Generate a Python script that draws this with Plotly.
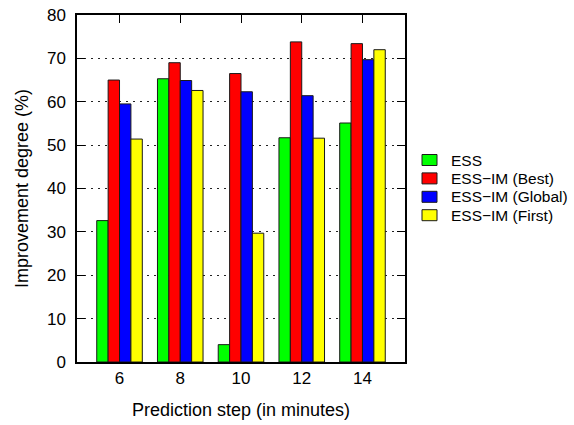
import plotly.graph_objects as go

# Prediction horizons (minutes) on the x axis
steps = [6, 8, 10, 12, 14]

# Improvement degree (%) for each method
ess = [32.6, 65.3, 4.0, 51.7, 55.1]
ess_im_best = [65.0, 69.0, 66.5, 73.8, 73.4]
ess_im_global = [59.5, 64.9, 62.3, 61.4, 69.7]
ess_im_first = [51.4, 62.6, 29.7, 51.6, 72.0]

series_names = ["ESS", "ESS\u2212IM (Best)", "ESS\u2212IM (Global)", "ESS\u2212IM (First)"]
series_values = [ess, ess_im_best, ess_im_global, ess_im_first]
series_colors = ["#00ff00", "#ff0000", "#0000ff", "#ffff00"]

FONT = "Liberation Sans, Arial, sans-serif"
W, H = 574, 425
ML, MR, MT, MB = 77, 169, 15, 63
PW, PH = W - ML - MR, H - MT - MB

fig = go.Figure()
for name, vals, col in zip(series_names, series_values, series_colors):
    fig.add_trace(go.Bar(
        x=steps, y=vals, name=name,
        marker=dict(color=col, line=dict(color="#1a1a1a", width=1)),
        showlegend=False,
    ))

# Compact key box to the right of the plot (gnuplot-style row spacing)
def px_x(px):
    return (px - ML) / PW

def px_y(py):
    return (H - MB - py) / PH

key_top, key_step = 160.0, 18.4
shapes, annotations = [], []
for i, (name, col) in enumerate(zip(series_names, series_colors)):
    cy = key_top + i * key_step
    shapes.append(dict(
        type="rect", xref="paper", yref="paper",
        x0=px_x(422), x1=px_x(437), y0=px_y(cy + 5.5), y1=px_y(cy - 5.5),
        fillcolor=col, line=dict(color="#1a1a1a", width=1),
    ))
    annotations.append(dict(
        xref="paper", yref="paper", x=px_x(449), y=px_y(cy),
        xanchor="left", yanchor="middle", showarrow=False,
        text=name, font=dict(family=FONT, size=15.5, color="black"),
    ))

fig.update_layout(
    width=W, height=H,
    margin=dict(l=ML, r=MR, t=MT, b=MB, autoexpand=False),
    paper_bgcolor="white", plot_bgcolor="white",
    barmode="group", bargap=0.25, bargroupgap=0,
    font=dict(family=FONT, color="black", size=16),
    showlegend=False,
    shapes=shapes, annotations=annotations,
)

fig.update_xaxes(
    range=[4.6, 15.4], automargin=False,
    tickmode="array", tickvals=steps, ticktext=[str(s) for s in steps],
    ticks="inside", ticklen=8, tickwidth=1, tickcolor="black",
    showline=True, linecolor="black", linewidth=1.5, mirror="ticks",
    showgrid=False, zeroline=False, layer="below traces",
    tickfont=dict(family=FONT, size=17),
    title=dict(text="Prediction step (in minutes)", font=dict(family=FONT, size=18), standoff=16),
)

fig.update_yaxes(
    range=[0, 80], dtick=10, tick0=0, automargin=False,
    ticks="inside", ticklen=8, tickwidth=1, tickcolor="black",
    showline=True, linecolor="black", linewidth=1.5, mirror="ticks",
    showgrid=True, gridcolor="#222222", gridwidth=1, griddash="2px,5px",
    zeroline=False, layer="below traces",
    tickfont=dict(family=FONT, size=17), ticklabelstandoff=6,
    title=dict(text="Improvement degree (%)", font=dict(family=FONT, size=18), standoff=14),
)

fig.write_html("out.html")
